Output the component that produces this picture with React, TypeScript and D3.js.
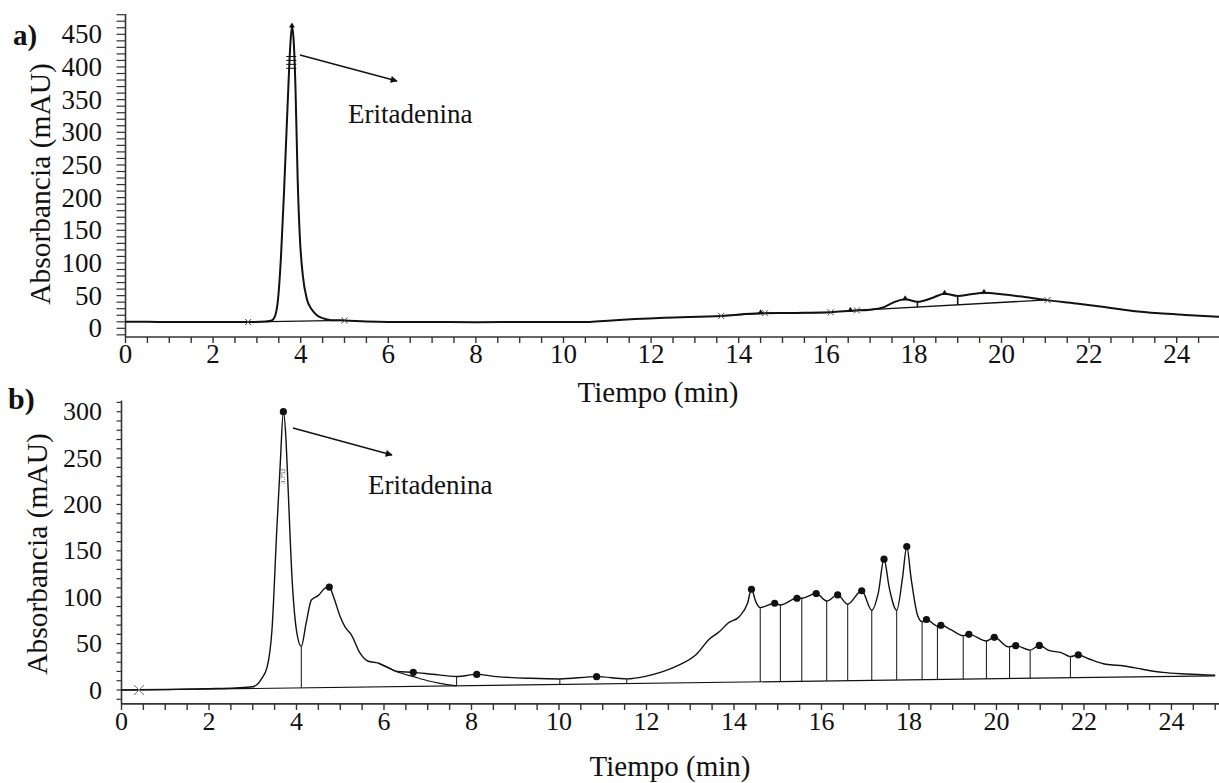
import React from "react";
import * as d3 from "d3";

const FONT = "'Liberation Serif', 'Times New Roman', Times, serif";

// ---------- a) chromatogram ----------
const tiempoA = [0, 0.5, 1, 2, 2.8, 3.2, 3.34, 3.42, 3.48, 3.55, 3.62, 3.7, 3.76, 3.8, 3.84, 3.88, 3.93, 3.98, 4.05, 4.14, 4.25, 4.37, 4.5, 4.7, 5.0, 5.5, 6, 7, 8, 9, 10, 10.6, 11.1, 12.3, 13.6, 14.5, 15.3, 16.1, 16.6, 17.0, 17.3, 17.55, 17.8, 18.08, 18.4, 18.7, 19.0, 19.3, 19.6, 20.0, 20.4, 21.0, 21.7, 22.3, 23.0, 23.6, 24.2, 25];
const absA = [10, 10, 9.6, 9.5, 9.6, 10.5, 12, 20, 43, 110, 210, 340, 430, 462, 440, 370, 230, 140, 80, 45, 29, 20, 15.5, 12.5, 12, 10.5, 9.8, 9.6, 9.3, 9.6, 9.8, 9.8, 12, 16, 19, 23, 23.5, 24.5, 27, 28.5, 32, 40, 44.5, 40.5, 46, 53, 49.5, 52, 54.3, 52, 49, 43.5, 38, 33, 26.5, 23, 20.5, 17.4];
// integration baselines (start, end)
const lineasBaseA = [
  { t1: 2.8, v1: 9.6, t2: 5.0, v2: 12.2 },
  { t1: 13.6, v1: 19, t2: 14.55, v2: 23 },
  { t1: 14.6, v1: 23, t2: 16.1, v2: 24.5 },
  { t1: 16.45, v1: 26.5, t2: 16.7, v2: 27.3 },
  { t1: 16.7, v1: 27.3, t2: 21.05, v2: 43.5 },
];
const extremosA = [2.8, 5.0, 13.6, 14.6, 16.1, 16.7, 21.05];
const apicesA = [3.8, 14.5, 16.55, 17.8, 18.7, 19.6];
const cortesA = [18.08, 19.0];
const ticksYA = [0, 50, 100, 150, 200, 250, 300, 350, 400, 450];

// ---------- b) chromatogram ----------
const tiempoB = [0, 1, 2, 2.6, 3.0, 3.1, 3.2, 3.33, 3.44, 3.55, 3.63, 3.7, 3.76, 3.8, 3.9, 4.01, 4.11, 4.22, 4.34, 4.5, 4.66, 4.75, 4.85, 5.0, 5.11, 5.26, 5.45, 5.64, 5.87, 6.06, 6.29, 6.67, 7.1, 7.66, 8.12, 8.58, 9.34, 10.02, 10.86, 11.55, 12.0, 12.37, 12.75, 13.13, 13.44, 13.67, 13.86, 14.12, 14.31, 14.4, 14.5, 14.6, 14.93, 15.06, 15.44, 15.55, 15.88, 16.12, 16.37, 16.6, 16.92, 17.15, 17.3, 17.43, 17.55, 17.72, 17.85, 17.95, 18.05, 18.2, 18.3, 18.4, 18.65, 18.73, 18.97, 19.24, 19.37, 19.77, 19.95, 20.27, 20.44, 20.77, 20.98, 21.21, 21.48, 21.69, 21.87, 22.12, 22.5, 22.92, 23.34, 23.8, 24.33, 25];
const absB = [0, 0.6, 1.4, 2.2, 3.5, 6, 12, 25, 65, 173, 245, 300, 270, 227, 119, 61, 47, 72, 97, 102, 110, 111, 100, 79, 68, 59, 40, 31, 29, 25, 20, 19, 17, 14.5, 16.8, 14.4, 12.6, 11.9, 14.4, 12, 15, 19.8, 27, 38, 55, 63, 72, 79, 93.5, 108.6, 95, 88.8, 93.5, 91.7, 98.9, 98.9, 104, 96, 102.5, 92.5, 107, 86, 105, 141, 110, 86, 120, 154.6, 120, 80, 73.7, 76, 69, 69.8, 64.7, 58.6, 60, 52.9, 56.8, 46.5, 47.8, 43, 48, 42.4, 40.3, 36, 37.8, 33.4, 27.7, 25.9, 22.3, 19, 17.3, 16];
// tangent skim under the tail of the second peak
const tiempoColaB = [5.87, 6.1, 6.4, 6.67, 7.0, 7.28, 7.66];
const absColaB = [29, 24, 18, 14.4, 10, 7.2, 4.5];
const lineaBaseB = { t1: 0.4, v1: 0, t2: 25, v2: 15.3 };
const cortesB = [4.11, 7.66, 10.02, 11.55, 14.6, 15.06, 15.55, 16.12, 16.6, 17.15, 17.72, 18.3, 18.65, 19.24, 19.77, 20.3, 20.77, 21.69];
const apicesB = [3.7, 4.75, 6.67, 8.12, 10.86, 14.4, 14.93, 15.44, 15.88, 16.37, 16.92, 17.43, 17.95, 18.4, 18.73, 19.37, 19.95, 20.44, 20.98, 21.87];
const ticksYB = [0, 50, 100, 150, 200, 250, 300];

const ticksX = [0, 2, 4, 6, 8, 10, 12, 14, 16, 18, 20, 22, 24];

const interp = (ts: number[], vs: number[], t: number) => {
  const i = Math.max(1, Math.min(ts.length - 1, d3.bisectLeft(ts, t)));
  const k = (t - ts[i - 1]) / (ts[i] - ts[i - 1]);
  return vs[i - 1] + k * (vs[i] - vs[i - 1]);
};
const onLine = (l: { t1: number; v1: number; t2: number; v2: number }, t: number) =>
  l.v1 + ((t - l.t1) / (l.t2 - l.t1)) * (l.v2 - l.v1);

function Axes({ x, y, yLo, yHi, yMinorStep, yLabels, tickLen, fs, xEnd }: any) {
  const x0 = x(0);
  const yb = y(yLo);
  const minorY = d3.range(Math.ceil(yLo / yMinorStep) * yMinorStep, yHi + 0.01, yMinorStep);
  const minorX = d3.range(0, 25.01, 0.5).filter((t) => x(t) <= xEnd);
  return (
    <g stroke="#333" fill="none">
      <line x1={x0} x2={x0} y1={y(yHi)} y2={yb} strokeWidth={1.6} />
      <line x1={x0} x2={xEnd} y1={yb} y2={yb} strokeWidth={1.6} />
      {minorY.map((v) => (
        <line key={"y" + v} x1={x0 - tickLen} x2={x0} y1={y(v)} y2={y(v)} strokeWidth={1.2} />
      ))}
      {minorX.map((t) => (
        <line key={"x" + t} x1={x(t)} x2={x(t)} y1={yb} y2={yb + 6} strokeWidth={1.4} />
      ))}
      <g stroke="none" fill="#111" fontFamily={FONT} fontSize={fs}>
        {yLabels.map((v: number) => (
          <text key={v} x={102} y={y(v)} textAnchor="end" dominantBaseline="central">{v}</text>
        ))}
        {ticksX.map((t) => (
          <text key={t} x={x(t)} y={yb + 26} textAnchor="middle">{t}</text>
        ))}
      </g>
    </g>
  );
}

const cross = (cx: number, cy: number, s: number) =>
  `M${cx - s},${cy - s}L${cx + s},${cy + s}M${cx - s},${cy + s}L${cx + s},${cy - s}`;

export default function App() {
  const xA = d3.scaleLinear().domain([0, 25]).range([125.5, 1220.5]);
  const yA = d3.scaleLinear().domain([0, 450]).range([328.3, 34.3]);
  const xB = d3.scaleLinear().domain([0, 25]).range([121.5, 1215.2]);
  const yB = d3.scaleLinear().domain([0, 300]).range([690, 411.7]);

  const lineA = d3.line<number>().x((t) => xA(t)).y((t, i) => yA(absA[i])).curve(d3.curveMonotoneX);
  const lineB = d3.line<number>().x((t) => xB(t)).y((t, i) => yB(absB[i])).curve(d3.curveMonotoneX);
  const colaB = d3.line<number>().x((t) => xB(t)).y((t, i) => yB(absColaB[i])).curve(d3.curveMonotoneX);
  const largaA = lineasBaseA[4];

  return (
    <svg width={1219} height={783} style={{ position: "absolute", left: 0, top: 0, background: "#fff" }}>
      <defs>
        <marker id="flecha" viewBox="0 0 10 10" refX="9" refY="5" markerWidth="9" markerHeight="7" orient="auto" markerUnits="userSpaceOnUse">
          <path d="M0,0L10,5L0,10z" fill="#111" />
        </marker>
      </defs>

      {/* ---------- a) ---------- */}
      <Axes x={xA} y={yA} yLo={-13.3} yHi={481} yMinorStep={10} yLabels={ticksYA} tickLen={9} fs={27} xEnd={1219} />
      <text x={13} y={45} fontFamily={FONT} fontWeight="bold" fontSize={29} fill="#111">a)</text>
      <text transform="translate(50,184) rotate(-90)" textAnchor="middle" fontFamily={FONT} fontSize={29.5} fill="#111">Absorbancia (mAU)</text>
      <text x={658} y={402} textAnchor="middle" fontFamily={FONT} fontSize={29} fill="#111">Tiempo (min)</text>

      <g fill="none" stroke="#111">
        {lineasBaseA.map((l, i) => (
          <line key={i} x1={xA(l.t1)} y1={yA(l.v1)} x2={xA(l.t2)} y2={yA(l.v2)} strokeWidth={1.3} />
        ))}
        {cortesA.map((t) => (
          <line key={t} x1={xA(t)} x2={xA(t)} y1={yA(interp(tiempoA, absA, t))} y2={yA(onLine(largaA, t))} strokeWidth={1.6} />
        ))}
        {[398, 404, 410, 416].map((v) => (
          <line key={v} x1={xA(3.67)} x2={xA(3.9)} y1={yA(v)} y2={yA(v)} strokeWidth={1} />
        ))}
        <path d={lineA(tiempoA) || ""} strokeWidth={2} />
        {extremosA.map((t) => {
          const v = interp(tiempoA, absA, t);
          return <path key={t} d={cross(xA(t), yA(v), 3)} strokeWidth={1} stroke="#444" />;
        })}
      </g>
      {apicesA.map((t) => {
        const px = xA(t);
        const py = yA(interp(tiempoA, absA, t)) - 1;
        return <path key={t} d={`M${px},${py - 3}L${px + 3},${py + 2}L${px - 3},${py + 2}Z`} fill="#111" />;
      })}
      <line x1={300} y1={55} x2={397} y2={81} stroke="#111" strokeWidth={1.3} markerEnd="url(#flecha)" />
      <text x={348} y={122.7} fontFamily={FONT} fontSize={27} fill="#111">Eritadenina</text>

      {/* ---------- b) ---------- */}
      <Axes x={xB} y={yB} yLo={-15} yHi={312} yMinorStep={10} yLabels={ticksYB} tickLen={5} fs={26} xEnd={1219} />
      <text x={8} y={409} fontFamily={FONT} fontWeight="bold" fontSize={30} fill="#111">b)</text>
      <text transform="translate(47,554) rotate(-90)" textAnchor="middle" fontFamily={FONT} fontSize={29.5} fill="#111">Absorbancia (mAU)</text>
      <text x={670} y={776} textAnchor="middle" fontFamily={FONT} fontSize={29} fill="#111">Tiempo (min)</text>

      <g fill="none" stroke="#111">
        <line x1={xB(lineaBaseB.t1)} y1={yB(lineaBaseB.v1)} x2={xB(lineaBaseB.t2)} y2={yB(lineaBaseB.v2)} strokeWidth={1.2} />
        <line x1={xB(0)} y1={yB(0)} x2={xB(lineaBaseB.t1)} y2={yB(0)} strokeWidth={1.2} />
        {cortesB.map((t) => (
          <line key={t} x1={xB(t)} x2={xB(t)} y1={yB(interp(tiempoB, absB, t))} y2={yB(onLine(lineaBaseB, t))} strokeWidth={1} />
        ))}
        <path d={colaB(tiempoColaB) || ""} strokeWidth={1.2} />
        <path d={lineB(tiempoB) || ""} strokeWidth={1.4} />
        <path d={cross(xB(lineaBaseB.t1), yB(lineaBaseB.v1), 5)} strokeWidth={1} stroke="#777" />
      </g>
      {apicesB.map((t) => (
        <circle key={t} cx={xB(t)} cy={yB(interp(tiempoB, absB, t))} r={3.6} fill="#111" />
      ))}
      <text transform={`translate(${xB(3.7) + 2},${yB(222)}) rotate(-90)`} fontFamily={FONT} fontSize={7} fill="#444">3.752</text>
      <line x1={293} y1={428} x2={392} y2={455} stroke="#111" strokeWidth={1.3} markerEnd="url(#flecha)" />
      <text x={368} y={494} fontFamily={FONT} fontSize={27} fill="#111">Eritadenina</text>
    </svg>
  );
}
